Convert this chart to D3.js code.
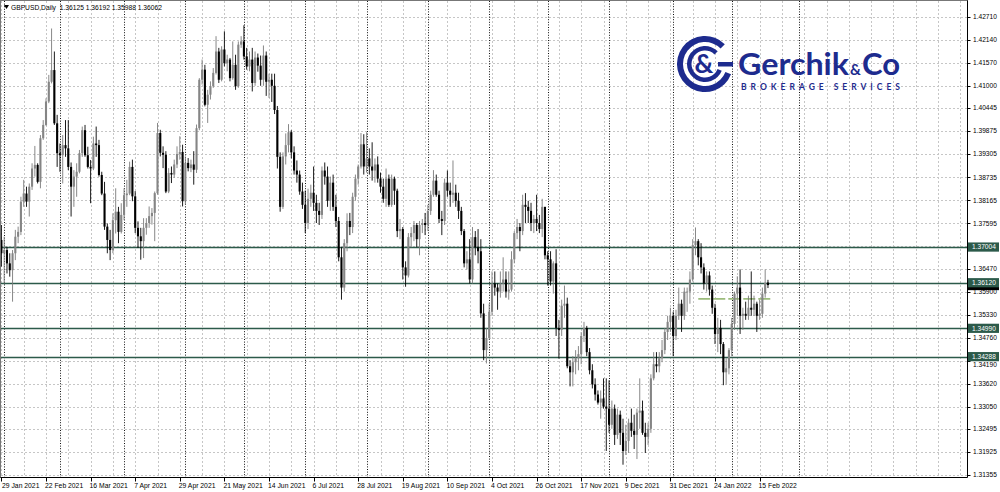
<!DOCTYPE html>
<html><head><meta charset="utf-8">
<script src="https://cdn.jsdelivr.net/npm/d3@7"></script>
<style>body{margin:0;background:#fff}svg{display:block}</style>
</head><body>
<svg id="c" width="1000" height="492"></svg>
<script>
const openP = [1.3718,1.3685,1.3693,1.3660,1.3643,1.3685,1.3726,1.3738,1.3813,1.3833,
1.3813,1.3850,1.3895,1.3904,1.3862,1.3970,1.4003,1.4061,1.4110,1.4139,
1.4007,1.3933,1.3928,1.3953,1.3945,1.3899,1.3850,1.3875,1.3887,1.3933,
1.3990,1.3928,1.3899,1.3895,1.3957,1.3953,1.3879,1.3833,1.3751,1.3718,
1.3693,1.3767,1.3788,1.3738,1.3780,1.3829,1.3833,1.3899,1.3826,1.3748,
1.3727,1.3715,1.3748,1.3760,1.3777,1.3785,1.3834,1.3983,1.3934,1.3929,
1.3838,1.3884,1.3880,1.3905,1.3931,1.3936,1.3814,1.3909,1.3896,1.3905,
1.3892,1.3995,1.4115,1.4140,1.4053,1.4078,1.4099,1.4132,1.4185,1.4115,
1.4190,1.4156,1.4165,1.4119,1.4152,1.4099,1.4202,1.4210,1.4173,1.4148,
1.4165,1.4107,1.4170,1.4150,1.4115,1.4175,1.4110,1.4115,1.4100,1.4040,
1.3924,1.3800,1.3925,1.3953,1.3985,1.3935,1.3890,1.3880,1.3838,1.3805,
1.3760,1.3820,1.3835,1.3810,1.3790,1.3780,1.3890,1.3875,1.3815,1.3860,
1.3800,1.3765,1.3675,1.3600,1.3710,1.3765,1.3750,1.3825,1.3870,1.3900,
1.3955,1.3900,1.3920,1.3900,1.3890,1.3905,1.3870,1.3850,1.3820,1.3870,
1.3805,1.3870,1.3840,1.3740,1.3745,1.3650,1.3630,1.3725,1.3735,1.3755,
1.3720,1.3755,1.3760,1.3755,1.3790,1.3830,1.3865,1.3830,1.3770,1.3765,
1.3860,1.3840,1.3830,1.3835,1.3815,1.3790,1.3740,1.3660,1.3670,1.3620,
1.3725,1.3700,1.3690,1.3536,1.3445,1.3475,1.3540,1.3610,1.3600,1.3590,
1.3610,1.3620,1.3590,1.3595,1.3670,1.3735,1.3750,1.3740,1.3805,1.3800,
1.3790,1.3760,1.3770,1.3760,1.3745,1.3800,1.3680,1.3670,1.3615,1.3660,
1.3500,1.3495,1.3555,1.3560,1.3405,1.3390,1.3415,1.3425,1.3435,1.3480,
1.3500,1.3440,1.3395,1.3360,1.3335,1.3315,1.3325,1.3305,1.3300,1.3260,
1.3300,1.3235,1.3285,1.3240,1.3195,1.3220,1.3265,1.3245,1.3235,1.3290,
1.3295,1.3240,1.3230,1.3250,1.3375,1.3410,1.3405,1.3425,1.3445,1.3490,
1.3515,1.3530,1.3480,1.3530,1.3560,1.3530,1.3590,1.3590,1.3620,1.3705,
1.3715,1.3675,1.3650,1.3610,1.3630,1.3595,1.3550,1.3485,1.3500,1.3460,
1.3390,1.3400,1.3445,1.3510,1.3585,1.3600,1.3530,1.3535,1.3530,1.3550,
1.3545,1.3560,1.3530,1.3535,1.3585,1.36125];

const highP = [1.3755,1.3726,1.3701,1.3685,1.3693,1.3743,1.3751,1.3825,1.3867,1.3850,
1.3858,1.3908,1.3951,1.3908,1.3978,1.4015,1.4069,1.4127,1.4242,1.4185,
1.4028,1.3957,1.3978,1.4015,1.4015,1.3910,1.3891,1.3908,1.3941,1.3999,
1.4003,1.3949,1.3916,1.3974,1.3999,1.3966,1.3887,1.3862,1.3759,1.3743,
1.3784,1.3846,1.3800,1.3809,1.3846,1.3867,1.3912,1.3917,1.3839,1.3764,
1.3748,1.3772,1.3772,1.3801,1.3797,1.3838,1.4008,1.3991,1.3950,1.3938,
1.3896,1.3900,1.3917,1.3950,1.3975,1.3954,1.3925,1.3921,1.3917,1.3938,
1.4004,1.4119,1.4165,1.4152,1.4090,1.4111,1.4144,1.4223,1.4194,1.4198,
1.4235,1.4177,1.4169,1.4210,1.4177,1.4210,1.4223,1.4250,1.4194,1.4185,
1.4194,1.4185,1.4180,1.4175,1.4200,1.4185,1.4130,1.4130,1.4130,1.4050,
1.3935,1.3935,1.3982,1.4005,1.3990,1.3950,1.3915,1.3890,1.3860,1.3840,
1.3845,1.3855,1.3900,1.3830,1.3810,1.3900,1.3910,1.3900,1.3875,1.3880,
1.3830,1.3775,1.3700,1.3720,1.3784,1.3785,1.3835,1.3880,1.3905,1.3983,
1.3980,1.3985,1.3945,1.3960,1.3920,1.3925,1.3885,1.3870,1.3895,1.3880,
1.3880,1.3875,1.3845,1.3770,1.3750,1.3665,1.3735,1.3750,1.3765,1.3760,
1.3765,1.3770,1.3785,1.3805,1.3840,1.3891,1.3880,1.3840,1.3790,1.3870,
1.3890,1.3860,1.3915,1.3855,1.3835,1.3800,1.3745,1.3690,1.3720,1.3750,
1.3740,1.3745,1.3720,1.3560,1.3500,1.3560,1.3640,1.3640,1.3610,1.3640,
1.3675,1.3640,1.3640,1.3690,1.3740,1.3770,1.3760,1.3830,1.3834,1.3815,
1.3810,1.3780,1.3830,1.3780,1.3820,1.3800,1.3690,1.3690,1.3665,1.3695,
1.3520,1.3570,1.3605,1.3575,1.3420,1.3430,1.3445,1.3455,1.3490,1.3515,
1.3505,1.3450,1.3410,1.3375,1.3345,1.3345,1.3375,1.3375,1.3370,1.3320,
1.3310,1.3300,1.3295,1.3275,1.3260,1.3275,1.3300,1.3285,1.3300,1.3375,
1.3320,1.3265,1.3265,1.3385,1.3440,1.3440,1.3440,1.3470,1.3500,1.3530,
1.3550,1.3540,1.3545,1.3600,1.3570,1.3600,1.3600,1.3640,1.3720,1.3749,
1.3720,1.3710,1.3660,1.3640,1.3640,1.3605,1.3560,1.3525,1.3520,1.3465,
1.3425,1.3450,1.3525,1.3590,1.3628,1.3645,1.3550,1.3565,1.3580,1.3640,
1.3580,1.3565,1.3570,1.3600,1.3645,1.36192];

const lowP = [1.3652,1.3610,1.3635,1.3627,1.3565,1.3668,1.3710,1.3730,1.3800,1.3800,
1.3776,1.3842,1.3875,1.3858,1.3846,1.3966,1.4001,1.4057,1.4106,1.4003,
1.3899,1.3887,1.3858,1.3924,1.3891,1.3776,1.3800,1.3825,1.3883,1.3924,
1.3924,1.3895,1.3809,1.3891,1.3924,1.3875,1.3829,1.3743,1.3685,1.3668,
1.3685,1.3734,1.3710,1.3734,1.3767,1.3800,1.3829,1.3814,1.3735,1.3698,
1.3669,1.3673,1.3731,1.3748,1.3756,1.3715,1.3830,1.3925,1.3896,1.3834,
1.3834,1.3859,1.3872,1.3896,1.3917,1.3801,1.3806,1.3888,1.3886,1.3855,
1.3884,1.3990,1.4103,1.4049,1.4008,1.4066,1.4095,1.4128,1.4107,1.4111,
1.4148,1.4136,1.4111,1.4115,1.4090,1.4095,1.4194,1.4165,1.4140,1.4136,
1.4086,1.4100,1.4135,1.4100,1.4100,1.4075,1.4070,1.4060,1.4030,1.3895,
1.3788,1.3795,1.3905,1.3935,1.3920,1.3880,1.3860,1.3830,1.3795,1.3735,
1.3745,1.3800,1.3790,1.3760,1.3755,1.3770,1.3855,1.3800,1.3790,1.3790,
1.3750,1.3665,1.3570,1.3590,1.3690,1.3730,1.3735,1.3815,1.3855,1.3895,
1.3880,1.3885,1.3880,1.3865,1.3860,1.3860,1.3835,1.3810,1.3800,1.3800,
1.3800,1.3805,1.3725,1.3720,1.3620,1.3602,1.3625,1.3700,1.3715,1.3700,
1.3680,1.3735,1.3730,1.3740,1.3780,1.3825,1.3825,1.3760,1.3730,1.3755,
1.3825,1.3800,1.3810,1.3800,1.3770,1.3730,1.3650,1.3645,1.3610,1.3610,
1.3680,1.3660,1.3525,1.3420,1.3412,1.3470,1.3530,1.3580,1.3545,1.3575,
1.3590,1.3575,1.3570,1.3590,1.3660,1.3720,1.3690,1.3730,1.3760,1.3760,
1.3740,1.3735,1.3740,1.3735,1.3725,1.3670,1.3605,1.3605,1.3585,1.3480,
1.3424,1.3480,1.3525,1.3400,1.3355,1.3355,1.3385,1.3395,1.3410,1.3465,
1.3430,1.3385,1.3350,1.3320,1.3310,1.3275,1.3300,1.3195,1.3240,1.3250,
1.3210,1.3225,1.3210,1.3161,1.3185,1.3190,1.3230,1.3200,1.3175,1.3250,
1.3235,1.3190,1.3210,1.3240,1.3370,1.3390,1.3390,1.3415,1.3435,1.3470,
1.3490,1.3430,1.3470,1.3520,1.3490,1.3520,1.3540,1.3560,1.3615,1.3680,
1.3655,1.3635,1.3595,1.3590,1.3580,1.3535,1.3460,1.3440,1.3435,1.3358,
1.3360,1.3385,1.3430,1.3495,1.3530,1.3485,1.3495,1.3520,1.3520,1.3530,
1.3530,1.3490,1.3520,1.3525,1.3575,1.35988];

const closeP = [1.3685,1.3693,1.3660,1.3643,1.3685,1.3726,1.3738,1.3813,1.3833,1.3813,
1.3850,1.3895,1.3904,1.3862,1.3970,1.4003,1.4061,1.4110,1.4139,1.4007,
1.3933,1.3928,1.3953,1.3945,1.3899,1.3850,1.3875,1.3887,1.3933,1.3990,
1.3928,1.3899,1.3895,1.3957,1.3953,1.3879,1.3833,1.3751,1.3718,1.3693,
1.3767,1.3788,1.3738,1.3780,1.3829,1.3833,1.3899,1.3826,1.3748,1.3727,
1.3715,1.3748,1.3760,1.3777,1.3785,1.3834,1.3983,1.3934,1.3929,1.3838,
1.3884,1.3880,1.3905,1.3931,1.3936,1.3814,1.3909,1.3896,1.3905,1.3892,
1.3995,1.4115,1.4140,1.4053,1.4078,1.4099,1.4132,1.4185,1.4115,1.4190,
1.4156,1.4165,1.4119,1.4152,1.4099,1.4202,1.4210,1.4173,1.4148,1.4165,
1.4107,1.4170,1.4150,1.4115,1.4175,1.4110,1.4115,1.4100,1.4040,1.3924,
1.3800,1.3925,1.3953,1.3985,1.3935,1.3890,1.3880,1.3838,1.3805,1.3760,
1.3820,1.3835,1.3810,1.3790,1.3780,1.3890,1.3875,1.3815,1.3860,1.3800,
1.3765,1.3675,1.3600,1.3710,1.3765,1.3750,1.3825,1.3870,1.3900,1.3955,
1.3900,1.3920,1.3900,1.3890,1.3905,1.3870,1.3850,1.3820,1.3870,1.3805,
1.3870,1.3840,1.3740,1.3745,1.3650,1.3630,1.3725,1.3735,1.3755,1.3720,
1.3755,1.3760,1.3755,1.3790,1.3830,1.3865,1.3830,1.3770,1.3765,1.3860,
1.3840,1.3830,1.3835,1.3815,1.3790,1.3740,1.3660,1.3670,1.3620,1.3725,
1.3700,1.3690,1.3536,1.3445,1.3475,1.3540,1.3610,1.3600,1.3590,1.3610,
1.3620,1.3590,1.3595,1.3670,1.3735,1.3750,1.3740,1.3805,1.3800,1.3790,
1.3760,1.3770,1.3760,1.3745,1.3800,1.3680,1.3670,1.3615,1.3660,1.3500,
1.3495,1.3555,1.3560,1.3405,1.3390,1.3415,1.3425,1.3435,1.3480,1.3500,
1.3440,1.3395,1.3360,1.3335,1.3315,1.3325,1.3305,1.3300,1.3260,1.3300,
1.3235,1.3285,1.3240,1.3195,1.3220,1.3265,1.3245,1.3235,1.3290,1.3295,
1.3240,1.3230,1.3250,1.3375,1.3410,1.3405,1.3425,1.3445,1.3490,1.3515,
1.3530,1.3480,1.3530,1.3560,1.3530,1.3590,1.3590,1.3620,1.3705,1.3715,
1.3675,1.3650,1.3610,1.3630,1.3595,1.3550,1.3485,1.3500,1.3460,1.3390,
1.3400,1.3445,1.3510,1.3585,1.3600,1.3530,1.3535,1.3530,1.3550,1.3545,
1.3560,1.3530,1.3535,1.3585,1.3612,1.36062];

const dateLabels = ["29 Jan 2021","22 Feb 2021","16 Mar 2021","7 Apr 2021","29 Apr 2021","21 May 2021",
"14 Jun 2021","6 Jul 2021","28 Jul 2021","19 Aug 2021","10 Sep 2021","4 Oct 2021","26 Oct 2021",
"17 Nov 2021","9 Dec 2021","31 Dec 2021","24 Jan 2022","15 Feb 2022"];
const dateLabelBar = [0,16,32,48,64,80,96,112,128,144,160,176,192,208,224,240,256,272];
const monthStartBar = [1,21,44,66,87,109,131,153,175,196,218,241,262,286];
const priceTicks = [1.42710,1.42140,1.41570,1.41000,1.40445,1.39875,1.39305,1.38735,1.38165,1.37595,
1.37025,1.36470,1.35900,1.35330,1.34760,1.34190,1.33620,1.33050,1.32495,1.31925,1.31355];
const levelLines = [1.37004,1.36120,1.34990,1.34288];
const lastPrice = 1.36062;
const headerText = "GBPUSD,Daily  1.36125 1.36192 1.35988 1.36062";

const W = 1000, H = 492;
const plotL = 1, plotR = 967.5, plotT = 1, plotB = 477.5;
const svg = d3.select("#c");
svg.append("rect").attr("width", W).attr("height", H).attr("fill", "#fff");

const x = d3.scaleLinear().domain([0, 272]).range([1.4, 759.6]);
const y = d3.scaleLinear().domain([1.31355, 1.42710]).range([475, 16.8]);
const FONT = "'Liberation Sans', Arial, sans-serif";
const boxH = 9.2;

// grid: horizontal
const g = svg.append("g");
g.selectAll("line.hg").data(priceTicks).join("line")
  .attr("x1", plotL).attr("x2", plotR)
  .attr("y1", d => Math.round(y(d)) + 0.5).attr("y2", d => Math.round(y(d)) + 0.5)
  .attr("stroke", "#c6c6c6").attr("stroke-dasharray", "2,2");
// grid: vertical every 8 bars
const vBars = d3.range(0, 360, 8).filter(b => x(b) < plotR - 1);
g.selectAll("line.vg").data(vBars).join("line")
  .attr("x1", d => Math.round(x(d)) + 0.5).attr("x2", d => Math.round(x(d)) + 0.5)
  .attr("y1", plotT).attr("y2", plotB)
  .attr("stroke", "#c6c6c6").attr("stroke-dasharray", "2,2");
// month separators
g.selectAll("line.ms").data(monthStartBar).join("line")
  .attr("x1", d => Math.round(x(d)) + 0.5).attr("x2", d => Math.round(x(d)) + 0.5)
  .attr("y1", plotT).attr("y2", plotB)
  .attr("stroke", "#111").attr("stroke-dasharray", "1,1.6");

// level lines
svg.append("g").selectAll("line").data(levelLines).join("line")
  .attr("x1", plotL).attr("x2", plotR)
  .attr("y1", d => Math.round(y(d)) + 0.5).attr("y2", d => Math.round(y(d)) + 0.5)
  .attr("stroke", "#2c5a4a").attr("stroke-width", 1.3);

// dashed olive line
svg.append("line")
  .attr("x1", x(250)).attr("x2", x(276))
  .attr("y1", y(1.3572)).attr("y2", y(1.3572))
  .attr("stroke", "#9cbc7c").attr("stroke-width", 1.6).attr("stroke-dasharray", "12,3");

// candles
const bars = d3.range(closeP.length).map(i => ({i, o: openP[i], h: highP[i], l: lowP[i], c: closeP[i]}));
const cg = svg.append("g");
cg.selectAll("line").data(bars).join("line")
  .attr("x1", d => x(d.i)).attr("x2", d => x(d.i))
  .attr("y1", d => y(d.h)).attr("y2", d => y(d.l))
  .attr("stroke", d => d.c >= d.o ? "#7a7a7a" : "#000").attr("stroke-width", 0.9);
cg.selectAll("rect").data(bars).join("rect")
  .attr("x", d => x(d.i) - 1.05).attr("width", 2.1)
  .attr("y", d => y(Math.max(d.o, d.c)))
  .attr("height", d => Math.max(0.8, Math.abs(y(d.o) - y(d.c))))
  .attr("fill", d => d.c >= d.o ? "#858585" : "#000");

// frame
svg.append("line").attr("x1", plotR).attr("x2", plotR).attr("y1", 0).attr("y2", plotB)
  .attr("stroke", "#000");
svg.append("line").attr("x1", 0).attr("x2", plotR).attr("y1", plotB).attr("y2", plotB)
  .attr("stroke", "#000");
svg.append("line").attr("x1", 0.5).attr("x2", 0.5).attr("y1", 0).attr("y2", plotB)
  .attr("stroke", "#777");
svg.append("line").attr("x1", 0).attr("x2", plotR).attr("y1", 0.5).attr("y2", 0.5)
  .attr("stroke", "#777");

// price axis labels; a label next to a level box sits just below that box
const pa = svg.append("g");
pa.selectAll("line").data(priceTicks).join("line")
  .attr("x1", plotR).attr("x2", plotR + 3)
  .attr("y1", d => Math.round(y(d)) + 0.5).attr("y2", d => Math.round(y(d)) + 0.5)
  .attr("stroke", "#000");
const nearBox = p => levelLines.map(l => y(l)).find(ly => Math.abs(ly - y(p)) < boxH / 2 + 3.2);
priceTicks.forEach(p => {
  const ly = nearBox(p);
  if (ly !== undefined && Math.abs(ly - y(p)) < 2.5) return; // hidden under a level box
  let ty = y(p) + 2.3;
  if (ly !== undefined) ty = Math.max(ty, ly + boxH / 2 + 6.2);
  pa.append("text").attr("x", 973).attr("y", ty)
    .attr("font-family", FONT).attr("font-size", 6.6).attr("fill", "#000")
    .text(p.toFixed(5));
});

// last price box (black, mostly hidden) then level boxes
const lpY = y(lastPrice);
svg.append("rect").attr("x", plotR + 0.5).attr("y", lpY - 4.1).attr("width", 31).attr("height", 9.2).attr("fill", "#000");
levelLines.forEach(p => {
  const yy = y(p);
  svg.append("rect").attr("x", plotR + 0.5).attr("y", yy - boxH / 2).attr("width", 31).attr("height", boxH).attr("fill", "#2c5a4a");
  svg.append("text").attr("x", 972).attr("y", yy + 2.3)
    .attr("font-family", FONT).attr("font-size", 6.6).attr("fill", "#fff").text(p.toFixed(5));
});

// time axis
const ta = svg.append("g");
ta.selectAll("line").data(dateLabelBar).join("line")
  .attr("x1", d => Math.round(x(d)) + 0.5).attr("x2", d => Math.round(x(d)) + 0.5)
  .attr("y1", plotB).attr("y2", plotB + 4)
  .attr("stroke", "#000");
ta.selectAll("text").data(dateLabels).join("text")
  .attr("x", (d, k) => Math.max(2, x(dateLabelBar[k]) - 1))
  .attr("y", 487.5)
  .attr("font-family", FONT).attr("font-size", 6.8).attr("fill", "#000")
  .text(d => d);

// header
svg.append("path").attr("d", "M4,5 L9,5 L6.5,9 Z").attr("fill", "#000");
svg.append("text").attr("x", 11).attr("y", 10)
  .attr("font-family", FONT).attr("font-size", 6.7).attr("fill", "#000")
  .style("white-space", "pre").text(headerText);

// logo
const navy = "#1d2b8e";
const lg = svg.append("g");
const cx = 705, cy = 64;
const arc = d3.arc();
[[22, 28], [13.5, 18]].forEach(([r0, r1]) => {
  lg.append("path").attr("transform", `translate(${cx},${cy})`)
    .attr("d", arc({innerRadius: r0, outerRadius: r1, startAngle: Math.PI * 0.62, endAngle: Math.PI * 2.25}))
    .attr("fill", navy);
});
lg.append("rect").attr("x", cx + 13).attr("y", cy - 2).attr("width", 15).attr("height", 4.5).attr("fill", navy);
lg.append("text").attr("x", cx - 1).attr("y", cy + 9).attr("text-anchor", "middle")
  .attr("font-family", "Lato, 'Open Sans', sans-serif").attr("font-weight", 700).attr("font-size", 26)
  .attr("fill", navy).text("&");
lg.append("text").attr("x", 738).attr("y", 75)
  .attr("font-family", "Lato, 'Open Sans', sans-serif").attr("font-weight", 700).attr("font-size", 30)
  .attr("textLength", 111).attr("lengthAdjust", "spacingAndGlyphs")
  .attr("fill", navy).text("Gerchik");
lg.append("text").attr("x", 850).attr("y", 75)
  .attr("font-family", "Lato, 'Open Sans', sans-serif").attr("font-weight", 700).attr("font-size", 15)
  .attr("fill", navy).text("&");
lg.append("text").attr("x", 862).attr("y", 75)
  .attr("font-family", "Lato, 'Open Sans', sans-serif").attr("font-weight", 700).attr("font-size", 30)
  .attr("textLength", 38).attr("lengthAdjust", "spacingAndGlyphs")
  .attr("fill", navy).text("Co");
lg.append("text").attr("x", 741).attr("y", 89.5)
  .attr("font-family", "Lato, 'Open Sans', sans-serif").attr("font-weight", 700).attr("font-size", 8.5)
  .attr("textLength", 159).attr("lengthAdjust", "spacing")
  .attr("fill", navy).text("BROKERAGE SERVICES");
</script>
</body></html>
